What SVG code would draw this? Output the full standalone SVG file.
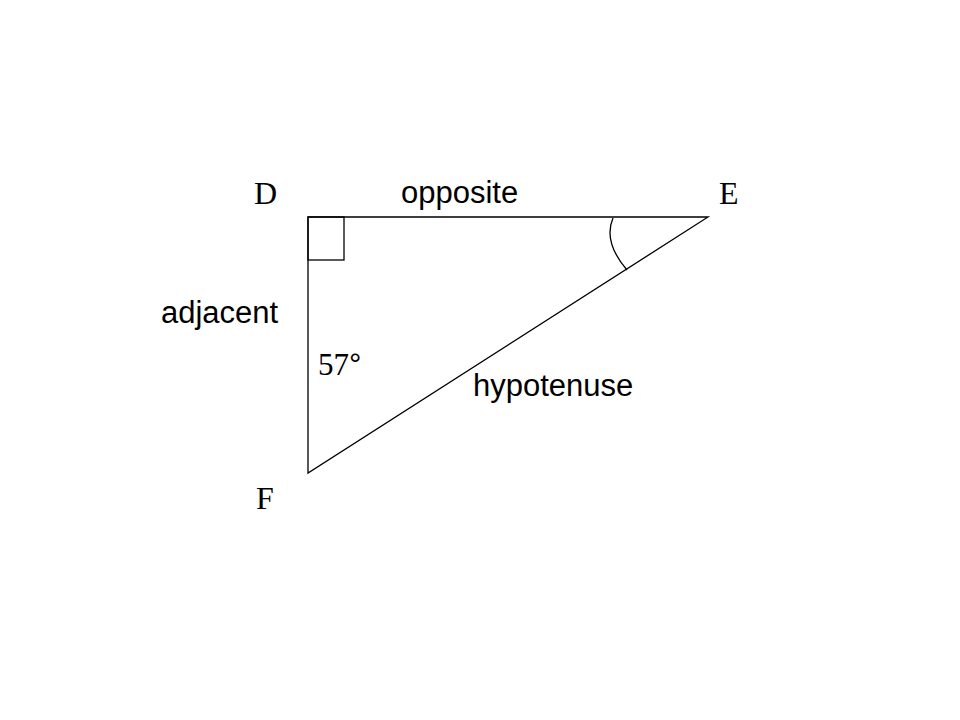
<svg xmlns="http://www.w3.org/2000/svg" width="960" height="720" viewBox="0 0 960 720">
<style>
.ln{fill:none;stroke:#000;stroke-width:1.3}
.vx{font-family:"Liberation Serif",serif;font-size:32px;fill:#000}
.lb{font-family:"Liberation Sans",sans-serif;font-size:31px;fill:#000}
</style>
<rect width="960" height="720" fill="#fff"/>
<g id="triangle">
<polygon class="ln" points="308,217 708,217 308,473"/>
<rect class="ln" x="308" y="217" width="36" height="43"/>
<path class="ln" d="M613,218 C607,232 609,249 627,270"/>
</g>
<g id="labels">
<text class="vx" x="254" y="204">D</text>
<text class="vx" x="719" y="204">E</text>
<text class="vx" x="256" y="509">F</text>
<text class="lb" x="401" y="203">opposite</text>
<text class="lb" x="161" y="323">adjacent</text>
<text class="lb" x="473" y="396">hypotenuse</text>
<text x="318" y="375"><tspan style="font-family:'Liberation Serif',serif;font-size:31px">57</tspan><tspan style="font-family:'Liberation Sans',sans-serif;font-size:31px">°</tspan></text>
</g>
</svg>
